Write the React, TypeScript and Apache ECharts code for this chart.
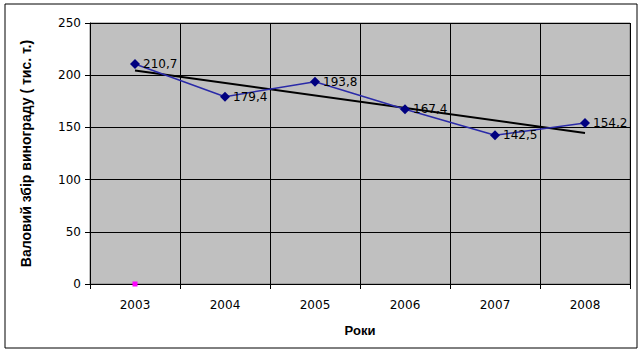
import React, { useEffect, useRef } from "react";
import * as echarts from "echarts";

const years = ["2003", "2004", "2005", "2006", "2007", "2008"];
const harvest = [210.7, 179.4, 193.8, 167.4, 142.5, 154.2];
// Linear trend line, endpoints
const trend = [204.6, null, null, null, null, 144.7];
// Small magenta marker at 2003, value 0
const extraPoint = [0, null, null, null, null, null];
const yTicks = [0, 50, 100, 150, 200, 250];

const FONT = "Arial, 'Liberation Sans', sans-serif";
const WIDE = "'DejaVu Sans', sans-serif";

export default function App() {
  const ref = useRef<HTMLDivElement>(null);
  useEffect(() => {
    if (!ref.current) return;
    const chart = echarts.init(ref.current, null, { renderer: "svg" });
    chart.setOption({
      animation: false,
      backgroundColor: "#ffffff",
      textStyle: { fontFamily: FONT },
      graphic: [
        {
          type: "rect",
          shape: { x: 5, y: 4, width: 632, height: 344 },
          style: { fill: "none", stroke: "#000", lineWidth: 1 },
          z: 100,
        },
      ],
      grid: {
        left: 90,
        right: 12,
        top: 23,
        bottom: 68,
        show: true,
        backgroundColor: "#c0c0c0",
        borderColor: "#808080",
        borderWidth: 1,
      },
      xAxis: {
        type: "category",
        data: years,
        boundaryGap: true,
        name: "Роки",
        nameLocation: "middle",
        nameGap: 40,
        nameTextStyle: { fontFamily: FONT, fontWeight: "bold", fontSize: 13, color: "#000" },
        axisLine: { lineStyle: { color: "#000", width: 1 } },
        axisTick: { show: true, length: 5, lineStyle: { color: "#000" } },
        axisLabel: { color: "#000", fontSize: 12, fontFamily: WIDE, margin: 15 },
        splitLine: { show: true, lineStyle: { color: "#000", width: 1 } },
      },
      yAxis: {
        type: "value",
        min: yTicks[0],
        max: yTicks[yTicks.length - 1],
        interval: 50,
        name: "Валовий збір винограду ( тис. т.)",
        nameLocation: "middle",
        nameGap: 57,
        nameRotate: 90,
        nameTextStyle: { fontFamily: FONT, fontWeight: "bold", fontSize: 14, color: "#000" },
        axisLine: { show: true, lineStyle: { color: "#000", width: 1 } },
        axisTick: { show: true, length: 5, lineStyle: { color: "#000" } },
        axisLabel: { color: "#000", fontSize: 12, fontFamily: WIDE, margin: 9 },
        splitLine: { show: true, lineStyle: { color: "#000", width: 1 } },
      },
      series: [
        {
          type: "line",
          data: trend,
          connectNulls: true,
          symbol: "none",
          lineStyle: { color: "#000", width: 2 },
          z: 3,
        },
        {
          type: "line",
          data: harvest,
          symbol: "diamond",
          symbolSize: 10,
          itemStyle: { color: "#000080" },
          lineStyle: { color: "#2a2aa8", width: 1.5 },
          label: {
            show: true,
            position: "right",
            distance: 3,
            color: "#000",
            fontSize: 12,
            fontFamily: WIDE,
            formatter: (p: any) => String(p.value).replace(".", ","),
          },
          z: 4,
        },
        {
          type: "line",
          data: extraPoint,
          symbol: "rect",
          symbolSize: 5,
          itemStyle: { color: "#ff00ff" },
          lineStyle: { width: 0 },
          z: 5,
        },
      ],
    });
    return () => chart.dispose();
  }, []);
  return <div ref={ref} style={{ width: 642, height: 352, position: "absolute", left: 0, top: 0 }} />;
}
